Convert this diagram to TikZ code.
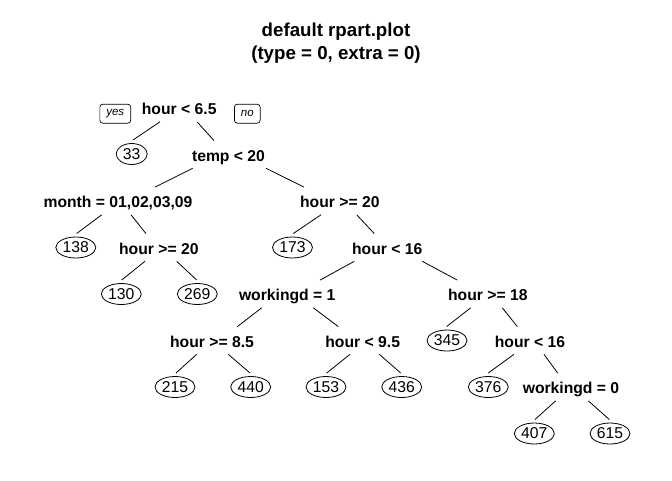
\documentclass[tikz,border=0pt]{standalone}
\usepackage{fontspec}
\setmainfont{Liberation Sans}
\usetikzlibrary{shapes.geometric,calc}
\newcommand\brS[4]{\draw[branch] ($(#1.base)+(#2,7)$) -- ($(#3.base)+(#4,-20.7)$);}
\newcommand\brL[4]{\draw[branch] ($(#1.base)+(#2,7)$) -- ($(#3.center)+(#4,-14)$);}
\begin{document}
\begin{tikzpicture}[x=1pt,y=-1pt,
  title/.style={anchor=base, inner sep=0pt, font=\fontsize{18.7}{22}\selectfont\bfseries},
  split/.style={anchor=base, inner sep=0pt, font=\fontsize{15.7}{18}\selectfont\bfseries},
  leaf/.style={ellipse, draw, line width=0.8pt, minimum width=40pt, minimum height=21pt, inner sep=0pt, font=\fontsize{15.7}{18}\selectfont},
  yn/.style={draw, rounded corners=3pt, line width=0.7pt, minimum height=19pt, inner xsep=6.5pt, inner ysep=0pt, font=\fontsize{11.5}{13}\selectfont\itshape},
  branch/.style={line width=0.8pt}]
\useasboundingbox[fill=white] (0,0) rectangle (672,480);
% title
\node[title] (t1) at (336,36.7) {default rpart.plot};
\node[title] (t2) at (336,59) {(type = 0, extra = 0)};
% split nodes
\node[split] (r0) at (179.2,114.8) {hour < 6.5};
\node[split] (tp) at (228.5,161.3) {temp < 20};
\node[split] (mo) at (118,207.8) {month = 01,02,03,09};
\node[split] (h1) at (339.8,207.8) {hour >= 20};
\node[split] (h2) at (158.8,254.3) {hour >= 20};
\node[split] (h3) at (387.2,254.3) {hour < 16};
\node[split] (w1) at (287.2,300.8) {workingd = 1};
\node[split] (h4) at (487.8,300.8) {hour >= 18};
\node[split] (h5) at (212,347.3) {hour >= 8.5};
\node[split] (h6) at (362.7,347.3) {hour < 9.5};
\node[split] (h7) at (530,347.3) {hour < 16};
\node[split] (w0) at (571,393.8) {workingd = 0};
% yes / no
\node[yn] (yes) at (115.3,113.7) {yes};
\node[yn] (no) at (247.3,113.7) {no};
% leaves
\node[leaf, minimum width=31pt] (l33) at (131.7,154) {33};
\node[leaf] (l138) at (75.8,247.5) {138};
\node[leaf] (l173) at (292.5,247.5) {173};
\node[leaf] (l130) at (121.3,294) {130};
\node[leaf] (l269) at (197.3,294) {269};
\node[leaf] (l345) at (447,340.5) {345};
\node[leaf] (l215) at (175,387) {215};
\node[leaf] (l440) at (250.7,387) {440};
\node[leaf] (l153) at (326,387) {153};
\node[leaf] (l436) at (401.7,387) {436};
\node[leaf] (l376) at (488.3,387) {376};
\node[leaf] (l407) at (534.3,433.5) {407};
\node[leaf] (l615) at (610,433.5) {615};
% branches
\brL{r0}{-19.2}{l33}{1.3}
\brS{r0}{17.8}{tp}{-14.5}
\brS{tp}{-35.8}{mo}{37}
\brS{tp}{37.5}{h1}{-35.8}
\brL{mo}{-16.3}{l138}{0.9}
\brS{mo}{13}{h2}{-12.8}
\brL{h2}{-13.8}{l130}{0.4}
\brL{h2}{17.9}{l269}{-0.6}
\brL{h1}{-18.8}{l173}{0.8}
\brS{h1}{16.9}{h3}{-12.9}
\brS{h3}{-32.9}{w1}{32.8}
\brS{h3}{35.1}{h4}{-30.5}
\brS{w1}{-25.5}{h5}{25.3}
\brS{w1}{26.1}{h6}{-24.4}
\brL{h4}{-17.1}{l345}{-0.3}
\brS{h4}{14.5}{h7}{-12.7}
\brL{h5}{-15.3}{l215}{1}
\brL{h5}{16.3}{l440}{-0.7}
\brL{h6}{-12.7}{l153}{0.7}
\brL{h6}{16.6}{l436}{-1}
\brL{h7}{-16}{l376}{0}
\brS{h7}{14}{w0}{-13.3}
\brL{w0}{-15.3}{l407}{0.7}
\brL{w0}{17.3}{l615}{-0.7}
\end{tikzpicture}
\end{document}
